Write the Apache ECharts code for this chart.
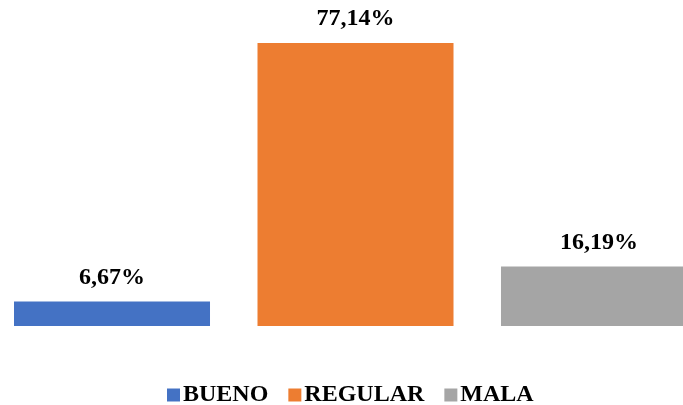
<!DOCTYPE html>
<html>
<head>
<meta charset="utf-8">
<script src="https://cdn.jsdelivr.net/npm/echarts@6/dist/echarts.min.js"></script>
<style>
html,body{margin:0;padding:0;background:#fff;}
#chart{width:683px;height:405px;}
</style>
</head>
<body>
<div id="chart"></div>
<script>
var categories = ['BUENO', 'REGULAR', 'MALA'];
var values = [6.67, 77.14, 16.19];
var colors = ['#4472C4', '#ED7D31', '#A5A5A5'];

var chart = echarts.init(document.getElementById('chart'), null, {renderer: 'canvas'});
var font = 'Liberation Serif, Times New Roman, serif';

var series = categories.map(function (name, i) {
  return {
    name: name,
    type: 'bar',
    data: [[i, values[i]]],
    barWidth: 196,
    barGap: '-100%',
    itemStyle: {color: colors[i]},
    label: {
      show: true,
      position: 'top',
      distance: 12,
      color: '#000',
      fontFamily: font,
      fontWeight: 'bold',
      fontSize: 24,
      formatter: function (p) { return p.value[1].toFixed(2).replace('.', ',') + '%'; }
    }
  };
});

chart.setOption({
  animation: false,
  backgroundColor: '#fff',
  grid: {left: 0, width: 683, top: 32.5, height: 293.5, containLabel: false},
  xAxis: {
    type: 'value',
    min: -0.46,
    max: 2.345,
    show: false,
    splitLine: {show: false}
  },
  yAxis: {
    type: 'value',
    min: 0,
    max: 80,
    show: false,
    splitLine: {show: false}
  },
  legend: {
    data: categories,
    top: 378,
    left: 162,
    padding: [5, 5, 5, 5],
    itemWidth: 13,
    itemHeight: 13,
    itemGap: 20,
    icon: 'rect',
    textStyle: {
      color: '#000',
      fontFamily: font,
      fontWeight: 'bold',
      fontSize: 24,
      padding: [0, 0, 0, -2]
    }
  },
  series: series
});
</script>
</body>
</html>
